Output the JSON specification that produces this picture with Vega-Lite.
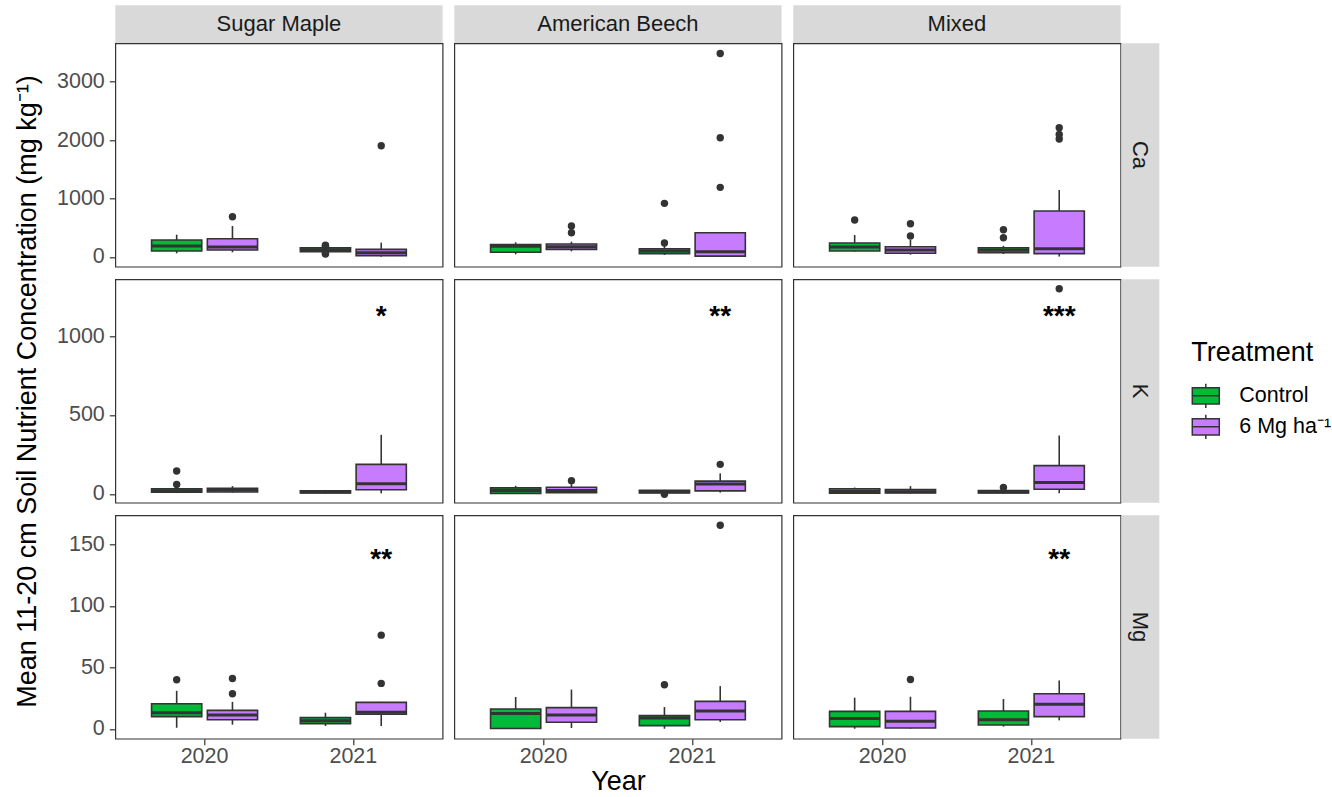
{
"$schema": "https://vega.github.io/schema/vega-lite/v6.json",
"padding": {"left": 13.3, "top": 5.3, "right": 5, "bottom": 2},
"datasets": {
"boxes": [
{"species":"Sugar Maple","element":"Ca","year":"2020","treatment":"Control","lo":63,"q1":103,"med":190,"q3":291,"hi":382},
{"species":"Sugar Maple","element":"Ca","year":"2020","treatment":"6 Mg ha⁻¹","lo":80,"q1":120,"med":170,"q3":313,"hi":530},
{"species":"Sugar Maple","element":"Ca","year":"2021","treatment":"Control","lo":80,"q1":91,"med":125,"q3":159,"hi":175},
{"species":"Sugar Maple","element":"Ca","year":"2021","treatment":"6 Mg ha⁻¹","lo":5,"q1":23,"med":74,"q3":131,"hi":245},
{"species":"American Beech","element":"Ca","year":"2020","treatment":"Control","lo":46,"q1":80,"med":183,"q3":211,"hi":251},
{"species":"American Beech","element":"Ca","year":"2020","treatment":"6 Mg ha⁻¹","lo":97,"q1":131,"med":177,"q3":222,"hi":262},
{"species":"American Beech","element":"Ca","year":"2021","treatment":"Control","lo":34,"q1":57,"med":103,"q3":142,"hi":200},
{"species":"American Beech","element":"Ca","year":"2021","treatment":"6 Mg ha⁻¹","lo":8,"q1":15,"med":91,"q3":416,"hi":416},
{"species":"Mixed","element":"Ca","year":"2020","treatment":"Control","lo":91,"q1":103,"med":170,"q3":240,"hi":376},
{"species":"Mixed","element":"Ca","year":"2020","treatment":"6 Mg ha⁻¹","lo":40,"q1":63,"med":120,"q3":176,"hi":291},
{"species":"Mixed","element":"Ca","year":"2021","treatment":"Control","lo":51,"q1":74,"med":120,"q3":159,"hi":190},
{"species":"Mixed","element":"Ca","year":"2021","treatment":"6 Mg ha⁻¹","lo":8,"q1":57,"med":140,"q3":787,"hi":1146},
{"species":"Sugar Maple","element":"K","year":"2020","treatment":"Control","lo":5,"q1":10,"med":20,"q3":32,"hi":40},
{"species":"Sugar Maple","element":"K","year":"2020","treatment":"6 Mg ha⁻¹","lo":8,"q1":12,"med":24,"q3":36,"hi":49},
{"species":"Sugar Maple","element":"K","year":"2021","treatment":"Control","lo":3,"q1":5,"med":12,"q3":20,"hi":25},
{"species":"Sugar Maple","element":"K","year":"2021","treatment":"6 Mg ha⁻¹","lo":3,"q1":26,"med":64,"q3":187,"hi":374},
{"species":"American Beech","element":"K","year":"2020","treatment":"Control","lo":2,"q1":3,"med":22,"q3":38,"hi":51},
{"species":"American Beech","element":"K","year":"2020","treatment":"6 Mg ha⁻¹","lo":5,"q1":8,"med":22,"q3":42,"hi":61},
{"species":"American Beech","element":"K","year":"2021","treatment":"Control","lo":3,"q1":5,"med":13,"q3":22,"hi":25},
{"species":"American Beech","element":"K","year":"2021","treatment":"6 Mg ha⁻¹","lo":8,"q1":19,"med":62,"q3":81,"hi":130},
{"species":"Mixed","element":"K","year":"2020","treatment":"Control","lo":2,"q1":4,"med":15,"q3":32,"hi":40},
{"species":"Mixed","element":"K","year":"2020","treatment":"6 Mg ha⁻¹","lo":3,"q1":5,"med":14,"q3":27,"hi":49},
{"species":"Mixed","element":"K","year":"2021","treatment":"Control","lo":3,"q1":5,"med":12,"q3":21,"hi":25},
{"species":"Mixed","element":"K","year":"2021","treatment":"6 Mg ha⁻¹","lo":4,"q1":29,"med":72,"q3":179,"hi":370},
{"species":"Sugar Maple","element":"Mg","year":"2020","treatment":"Control","lo":1,"q1":10,"med":13.2,"q3":20.5,"hi":31},
{"species":"Sugar Maple","element":"Mg","year":"2020","treatment":"6 Mg ha⁻¹","lo":3.5,"q1":7.5,"med":11.3,"q3":15.1,"hi":22},
{"species":"Sugar Maple","element":"Mg","year":"2021","treatment":"Control","lo":2.4,"q1":4.3,"med":6.7,"q3":9.2,"hi":13.2},
{"species":"Sugar Maple","element":"Mg","year":"2021","treatment":"6 Mg ha⁻¹","lo":2.4,"q1":11.9,"med":13.5,"q3":21.6,"hi":22},
{"species":"American Beech","element":"Mg","year":"2020","treatment":"Control","lo":0.4,"q1":0.4,"med":12.6,"q3":16.2,"hi":26},
{"species":"American Beech","element":"Mg","year":"2020","treatment":"6 Mg ha⁻¹","lo":0.8,"q1":5.4,"med":11.3,"q3":17.3,"hi":32},
{"species":"American Beech","element":"Mg","year":"2021","treatment":"Control","lo":0.2,"q1":2.7,"med":8.9,"q3":10.8,"hi":17.8},
{"species":"American Beech","element":"Mg","year":"2021","treatment":"6 Mg ha⁻¹","lo":5.7,"q1":7.5,"med":14.6,"q3":22.4,"hi":34.8},
{"species":"Mixed","element":"Mg","year":"2020","treatment":"Control","lo":0.2,"q1":1.9,"med":8.4,"q3":14.3,"hi":25.4},
{"species":"Mixed","element":"Mg","year":"2020","treatment":"6 Mg ha⁻¹","lo":0.2,"q1":0.8,"med":6.2,"q3":14.3,"hi":26.2},
{"species":"Mixed","element":"Mg","year":"2021","treatment":"Control","lo":1.9,"q1":3.2,"med":7.5,"q3":14.6,"hi":24.3},
{"species":"Mixed","element":"Mg","year":"2021","treatment":"6 Mg ha⁻¹","lo":7,"q1":10,"med":20,"q3":28.6,"hi":39.4}
],
"outliers": [
{"species":"Sugar Maple","element":"Ca","year":"2020","treatment":"6 Mg ha⁻¹","value":690},
{"species":"Sugar Maple","element":"Ca","year":"2021","treatment":"Control","value":185},
{"species":"Sugar Maple","element":"Ca","year":"2021","treatment":"Control","value":200},
{"species":"Sugar Maple","element":"Ca","year":"2021","treatment":"Control","value":65},
{"species":"Sugar Maple","element":"Ca","year":"2021","treatment":"Control","value":50},
{"species":"Sugar Maple","element":"Ca","year":"2021","treatment":"6 Mg ha⁻¹","value":1905},
{"species":"American Beech","element":"Ca","year":"2020","treatment":"6 Mg ha⁻¹","value":416},
{"species":"American Beech","element":"Ca","year":"2020","treatment":"6 Mg ha⁻¹","value":530},
{"species":"American Beech","element":"Ca","year":"2021","treatment":"Control","value":240},
{"species":"American Beech","element":"Ca","year":"2021","treatment":"Control","value":918},
{"species":"American Beech","element":"Ca","year":"2021","treatment":"6 Mg ha⁻¹","value":1192},
{"species":"American Beech","element":"Ca","year":"2021","treatment":"6 Mg ha⁻¹","value":2041},
{"species":"American Beech","element":"Ca","year":"2021","treatment":"6 Mg ha⁻¹","value":3483},
{"species":"Mixed","element":"Ca","year":"2020","treatment":"Control","value":633},
{"species":"Mixed","element":"Ca","year":"2020","treatment":"6 Mg ha⁻¹","value":359},
{"species":"Mixed","element":"Ca","year":"2020","treatment":"6 Mg ha⁻¹","value":570},
{"species":"Mixed","element":"Ca","year":"2021","treatment":"Control","value":330},
{"species":"Mixed","element":"Ca","year":"2021","treatment":"Control","value":467},
{"species":"Mixed","element":"Ca","year":"2021","treatment":"6 Mg ha⁻¹","value":2019},
{"species":"Mixed","element":"Ca","year":"2021","treatment":"6 Mg ha⁻¹","value":2098},
{"species":"Mixed","element":"Ca","year":"2021","treatment":"6 Mg ha⁻¹","value":2212},
{"species":"Sugar Maple","element":"K","year":"2020","treatment":"Control","value":59},
{"species":"Sugar Maple","element":"K","year":"2020","treatment":"Control","value":145},
{"species":"American Beech","element":"K","year":"2020","treatment":"6 Mg ha⁻¹","value":83},
{"species":"American Beech","element":"K","year":"2021","treatment":"Control","value":-3},
{"species":"American Beech","element":"K","year":"2021","treatment":"6 Mg ha⁻¹","value":187},
{"species":"Mixed","element":"K","year":"2021","treatment":"Control","value":40},
{"species":"Mixed","element":"K","year":"2021","treatment":"6 Mg ha⁻¹","value":1300},
{"species":"Sugar Maple","element":"Mg","year":"2020","treatment":"Control","value":40},
{"species":"Sugar Maple","element":"Mg","year":"2020","treatment":"6 Mg ha⁻¹","value":28.6},
{"species":"Sugar Maple","element":"Mg","year":"2020","treatment":"6 Mg ha⁻¹","value":41},
{"species":"Sugar Maple","element":"Mg","year":"2021","treatment":"6 Mg ha⁻¹","value":37},
{"species":"Sugar Maple","element":"Mg","year":"2021","treatment":"6 Mg ha⁻¹","value":76.2},
{"species":"American Beech","element":"Mg","year":"2021","treatment":"Control","value":35.9},
{"species":"American Beech","element":"Mg","year":"2021","treatment":"6 Mg ha⁻¹","value":165.4},
{"species":"Mixed","element":"Mg","year":"2020","treatment":"6 Mg ha⁻¹","value":40.2}
],
"sig": [
{"species":"Sugar Maple","element":"K","year":"2021","treatment":"6 Mg ha⁻¹","label":"*","value":1119},
{"species":"American Beech","element":"K","year":"2021","treatment":"6 Mg ha⁻¹","label":"**","value":1119},
{"species":"Mixed","element":"K","year":"2021","treatment":"6 Mg ha⁻¹","label":"***","value":1119},
{"species":"Sugar Maple","element":"Mg","year":"2021","treatment":"6 Mg ha⁻¹","label":"**","value":137.4},
{"species":"Mixed","element":"Mg","year":"2021","treatment":"6 Mg ha⁻¹","label":"**","value":137.4}
]
},
"columns": 6,
"spacing": 0,
"align": "each",
"bounds": "flush",
"concat": [
{"width":327.3,"height":38,"view":{"fill":"#d9d9d9","stroke":null},"data":{"values":[{"t":"Sugar Maple"}]},"mark":{"type":"text","fontSize":22,"color":"#1a1a1a"},"encoding":{"text":{"field":"t"}}},
{"width":11,"height":1,"data":{"values":[]},"mark":"point"},
{"width":327.3,"height":38,"view":{"fill":"#d9d9d9","stroke":null},"data":{"values":[{"t":"American Beech"}]},"mark":{"type":"text","fontSize":22,"color":"#1a1a1a"},"encoding":{"text":{"field":"t"}}},
{"width":11,"height":1,"data":{"values":[]},"mark":"point"},
{"width":327.3,"height":38,"view":{"fill":"#d9d9d9","stroke":null},"data":{"values":[{"t":"Mixed"}]},"mark":{"type":"text","fontSize":22,"color":"#1a1a1a"},"encoding":{"text":{"field":"t"}}},
{"width":1,"height":1,"data":{"values":[]},"mark":"point"},

{"width":327.3,"height":223.4,"view":{"stroke":"#333333","strokeWidth":1.2},
 "encoding":{"x":{"field":"year","type":"nominal","scale":{"paddingInner":0.25,"paddingOuter":0.225},"axis":null},
  "xOffset":{"field":"treatment","type":"nominal","scale":{"domain":["Control","6 Mg ha⁻¹"],"paddingInner":0.1,"paddingOuter":0.05}}},
 "layer":[
  {"data":{"name":"boxes"},"transform":[{"filter":"datum.species==='Sugar Maple' && datum.element==='Ca'"}],"mark":{"type":"rule","color":"#333333","strokeWidth":1.6},
   "encoding":{"y":{"field":"lo","type":"quantitative","scale":{"domain":[-166,3657],"nice":false,"zero":false},"axis":{"values":[0,1000,2000,3000],"format":"d","title":null}},"y2":{"field":"hi"}}},
  {"data":{"name":"boxes"},"transform":[{"filter":"datum.species==='Sugar Maple' && datum.element==='Ca'"}],"mark":{"type":"bar","stroke":"#333333","strokeWidth":1.6},
   "encoding":{"y":{"field":"q1","type":"quantitative","axis":{"values":[0,1000,2000,3000],"format":"d","title":null}},"y2":{"field":"q3"},"fill":{"field":"treatment","type":"nominal","scale":{"domain":["Control","6 Mg ha⁻¹"],"range":["#00BA38","#C77CFF"]},
    "legend":{"title":"Treatment","orient":"none","legendX":1076,"legendY":335,"symbolType":"M-1,-0.6H1V0.6H-1Z M-1,0H1 M0,-0.6V-0.9 M0,0.6V0.9","symbolSize":729,"symbolStrokeColor":"#333333","symbolStrokeWidth":1.5,"titleFontSize":27,"titleFontWeight":"normal","titleColor":"black","labelFontSize":21.5,"labelColor":"black","labelOffset":19,"rowPadding":0,"titlePadding":14}}}},
  {"data":{"name":"boxes"},"transform":[{"filter":"datum.species==='Sugar Maple' && datum.element==='Ca'"}],"mark":{"type":"bar","stroke":"#333333","strokeWidth":3,"fill":"#333333"},
   "encoding":{"y":{"field":"med","type":"quantitative","axis":{"values":[0,1000,2000,3000],"format":"d","title":null}},"y2":{"field":"med"}}},
  {"data":{"name":"outliers"},"transform":[{"filter":"datum.species==='Sugar Maple' && datum.element==='Ca'"}],"mark":{"type":"point","filled":true,"color":"#333333","size":55,"opacity":1},
   "encoding":{"y":{"field":"value","type":"quantitative","axis":{"values":[0,1000,2000,3000],"format":"d","title":null}}}},
  {"data":{"name":"sig"},"transform":[{"filter":"datum.species==='Sugar Maple' && datum.element==='Ca'"}],"mark":{"type":"text","fontSize":28,"fontWeight":"bold","baseline":"middle","color":"black"},
   "encoding":{"y":{"field":"value","type":"quantitative","axis":{"values":[0,1000,2000,3000],"format":"d","title":null}},"text":{"field":"label"}}}
 ]},
{"width":11,"height":1,"data":{"values":[]},"mark":"point"},
{"width":327.3,"height":223.4,"view":{"stroke":"#333333","strokeWidth":1.2},
 "encoding":{"x":{"field":"year","type":"nominal","scale":{"paddingInner":0.25,"paddingOuter":0.225},"axis":null},
  "xOffset":{"field":"treatment","type":"nominal","scale":{"domain":["Control","6 Mg ha⁻¹"],"paddingInner":0.1,"paddingOuter":0.05}}},
 "layer":[
  {"data":{"name":"boxes"},"transform":[{"filter":"datum.species==='American Beech' && datum.element==='Ca'"}],"mark":{"type":"rule","color":"#333333","strokeWidth":1.6},
   "encoding":{"y":{"field":"lo","type":"quantitative","scale":{"domain":[-166,3657],"nice":false,"zero":false},"axis":null},"y2":{"field":"hi"}}},
  {"data":{"name":"boxes"},"transform":[{"filter":"datum.species==='American Beech' && datum.element==='Ca'"}],"mark":{"type":"bar","stroke":"#333333","strokeWidth":1.6},
   "encoding":{"y":{"field":"q1","type":"quantitative","axis":null},"y2":{"field":"q3"},"fill":{"field":"treatment","type":"nominal","scale":{"domain":["Control","6 Mg ha⁻¹"],"range":["#00BA38","#C77CFF"]}}}},
  {"data":{"name":"boxes"},"transform":[{"filter":"datum.species==='American Beech' && datum.element==='Ca'"}],"mark":{"type":"bar","stroke":"#333333","strokeWidth":3,"fill":"#333333"},
   "encoding":{"y":{"field":"med","type":"quantitative","axis":null},"y2":{"field":"med"}}},
  {"data":{"name":"outliers"},"transform":[{"filter":"datum.species==='American Beech' && datum.element==='Ca'"}],"mark":{"type":"point","filled":true,"color":"#333333","size":55,"opacity":1},
   "encoding":{"y":{"field":"value","type":"quantitative","axis":null}}},
  {"data":{"name":"sig"},"transform":[{"filter":"datum.species==='American Beech' && datum.element==='Ca'"}],"mark":{"type":"text","fontSize":28,"fontWeight":"bold","baseline":"middle","color":"black"},
   "encoding":{"y":{"field":"value","type":"quantitative","axis":null},"text":{"field":"label"}}}
 ]},
{"width":11,"height":1,"data":{"values":[]},"mark":"point"},
{"width":327.3,"height":223.4,"view":{"stroke":"#333333","strokeWidth":1.2},
 "encoding":{"x":{"field":"year","type":"nominal","scale":{"paddingInner":0.25,"paddingOuter":0.225},"axis":null},
  "xOffset":{"field":"treatment","type":"nominal","scale":{"domain":["Control","6 Mg ha⁻¹"],"paddingInner":0.1,"paddingOuter":0.05}}},
 "layer":[
  {"data":{"name":"boxes"},"transform":[{"filter":"datum.species==='Mixed' && datum.element==='Ca'"}],"mark":{"type":"rule","color":"#333333","strokeWidth":1.6},
   "encoding":{"y":{"field":"lo","type":"quantitative","scale":{"domain":[-166,3657],"nice":false,"zero":false},"axis":null},"y2":{"field":"hi"}}},
  {"data":{"name":"boxes"},"transform":[{"filter":"datum.species==='Mixed' && datum.element==='Ca'"}],"mark":{"type":"bar","stroke":"#333333","strokeWidth":1.6},
   "encoding":{"y":{"field":"q1","type":"quantitative","axis":null},"y2":{"field":"q3"},"fill":{"field":"treatment","type":"nominal","scale":{"domain":["Control","6 Mg ha⁻¹"],"range":["#00BA38","#C77CFF"]}}}},
  {"data":{"name":"boxes"},"transform":[{"filter":"datum.species==='Mixed' && datum.element==='Ca'"}],"mark":{"type":"bar","stroke":"#333333","strokeWidth":3,"fill":"#333333"},
   "encoding":{"y":{"field":"med","type":"quantitative","axis":null},"y2":{"field":"med"}}},
  {"data":{"name":"outliers"},"transform":[{"filter":"datum.species==='Mixed' && datum.element==='Ca'"}],"mark":{"type":"point","filled":true,"color":"#333333","size":55,"opacity":1},
   "encoding":{"y":{"field":"value","type":"quantitative","axis":null}}},
  {"data":{"name":"sig"},"transform":[{"filter":"datum.species==='Mixed' && datum.element==='Ca'"}],"mark":{"type":"text","fontSize":28,"fontWeight":"bold","baseline":"middle","color":"black"},
   "encoding":{"y":{"field":"value","type":"quantitative","axis":null},"text":{"field":"label"}}}
 ]},
{"width":38,"height":223.4,"view":{"fill":"#d9d9d9","stroke":null},"data":{"values":[{"t":"Ca"}]},"mark":{"type":"text","fontSize":22,"color":"#1a1a1a","angle":90},"encoding":{"text":{"field":"t"}}},

{"width":1,"height":11.6,"data":{"values":[]},"mark":"point"},
{"width":1,"height":11.6,"data":{"values":[]},"mark":"point"},
{"width":1,"height":11.6,"data":{"values":[]},"mark":"point"},
{"width":1,"height":11.6,"data":{"values":[]},"mark":"point"},
{"width":1,"height":11.6,"data":{"values":[]},"mark":"point"},
{"width":1,"height":11.6,"data":{"values":[]},"mark":"point"},

{"width":327.3,"height":223.4,"view":{"stroke":"#333333","strokeWidth":1.2},
 "encoding":{"x":{"field":"year","type":"nominal","scale":{"paddingInner":0.25,"paddingOuter":0.225},"axis":null},
  "xOffset":{"field":"treatment","type":"nominal","scale":{"domain":["Control","6 Mg ha⁻¹"],"paddingInner":0.1,"paddingOuter":0.05}}},
 "layer":[
  {"data":{"name":"boxes"},"transform":[{"filter":"datum.species==='Sugar Maple' && datum.element==='K'"}],"mark":{"type":"rule","color":"#333333","strokeWidth":1.6},
   "encoding":{"y":{"field":"lo","type":"quantitative","scale":{"domain":[-56,1360],"nice":false,"zero":false},"axis":{"values":[0,500,1000],"format":"d","title":"Mean 11-20 cm Soil Nutrient Concentration (mg kg⁻¹)","titlePadding":14.5}},"y2":{"field":"hi"}}},
  {"data":{"name":"boxes"},"transform":[{"filter":"datum.species==='Sugar Maple' && datum.element==='K'"}],"mark":{"type":"bar","stroke":"#333333","strokeWidth":1.6},
   "encoding":{"y":{"field":"q1","type":"quantitative","axis":{"values":[0,500,1000],"format":"d","title":"Mean 11-20 cm Soil Nutrient Concentration (mg kg⁻¹)","titlePadding":14.5}},"y2":{"field":"q3"},"fill":{"field":"treatment","type":"nominal","scale":{"domain":["Control","6 Mg ha⁻¹"],"range":["#00BA38","#C77CFF"]}}}},
  {"data":{"name":"boxes"},"transform":[{"filter":"datum.species==='Sugar Maple' && datum.element==='K'"}],"mark":{"type":"bar","stroke":"#333333","strokeWidth":3,"fill":"#333333"},
   "encoding":{"y":{"field":"med","type":"quantitative","axis":{"values":[0,500,1000],"format":"d","title":"Mean 11-20 cm Soil Nutrient Concentration (mg kg⁻¹)","titlePadding":14.5}},"y2":{"field":"med"}}},
  {"data":{"name":"outliers"},"transform":[{"filter":"datum.species==='Sugar Maple' && datum.element==='K'"}],"mark":{"type":"point","filled":true,"color":"#333333","size":55,"opacity":1},
   "encoding":{"y":{"field":"value","type":"quantitative","axis":{"values":[0,500,1000],"format":"d","title":"Mean 11-20 cm Soil Nutrient Concentration (mg kg⁻¹)","titlePadding":14.5}}}},
  {"data":{"name":"sig"},"transform":[{"filter":"datum.species==='Sugar Maple' && datum.element==='K'"}],"mark":{"type":"text","fontSize":28,"fontWeight":"bold","baseline":"middle","color":"black"},
   "encoding":{"y":{"field":"value","type":"quantitative","axis":{"values":[0,500,1000],"format":"d","title":"Mean 11-20 cm Soil Nutrient Concentration (mg kg⁻¹)","titlePadding":14.5}},"text":{"field":"label"}}}
 ]},
{"width":11,"height":1,"data":{"values":[]},"mark":"point"},
{"width":327.3,"height":223.4,"view":{"stroke":"#333333","strokeWidth":1.2},
 "encoding":{"x":{"field":"year","type":"nominal","scale":{"paddingInner":0.25,"paddingOuter":0.225},"axis":null},
  "xOffset":{"field":"treatment","type":"nominal","scale":{"domain":["Control","6 Mg ha⁻¹"],"paddingInner":0.1,"paddingOuter":0.05}}},
 "layer":[
  {"data":{"name":"boxes"},"transform":[{"filter":"datum.species==='American Beech' && datum.element==='K'"}],"mark":{"type":"rule","color":"#333333","strokeWidth":1.6},
   "encoding":{"y":{"field":"lo","type":"quantitative","scale":{"domain":[-56,1360],"nice":false,"zero":false},"axis":null},"y2":{"field":"hi"}}},
  {"data":{"name":"boxes"},"transform":[{"filter":"datum.species==='American Beech' && datum.element==='K'"}],"mark":{"type":"bar","stroke":"#333333","strokeWidth":1.6},
   "encoding":{"y":{"field":"q1","type":"quantitative","axis":null},"y2":{"field":"q3"},"fill":{"field":"treatment","type":"nominal","scale":{"domain":["Control","6 Mg ha⁻¹"],"range":["#00BA38","#C77CFF"]}}}},
  {"data":{"name":"boxes"},"transform":[{"filter":"datum.species==='American Beech' && datum.element==='K'"}],"mark":{"type":"bar","stroke":"#333333","strokeWidth":3,"fill":"#333333"},
   "encoding":{"y":{"field":"med","type":"quantitative","axis":null},"y2":{"field":"med"}}},
  {"data":{"name":"outliers"},"transform":[{"filter":"datum.species==='American Beech' && datum.element==='K'"}],"mark":{"type":"point","filled":true,"color":"#333333","size":55,"opacity":1},
   "encoding":{"y":{"field":"value","type":"quantitative","axis":null}}},
  {"data":{"name":"sig"},"transform":[{"filter":"datum.species==='American Beech' && datum.element==='K'"}],"mark":{"type":"text","fontSize":28,"fontWeight":"bold","baseline":"middle","color":"black"},
   "encoding":{"y":{"field":"value","type":"quantitative","axis":null},"text":{"field":"label"}}}
 ]},
{"width":11,"height":1,"data":{"values":[]},"mark":"point"},
{"width":327.3,"height":223.4,"view":{"stroke":"#333333","strokeWidth":1.2},
 "encoding":{"x":{"field":"year","type":"nominal","scale":{"paddingInner":0.25,"paddingOuter":0.225},"axis":null},
  "xOffset":{"field":"treatment","type":"nominal","scale":{"domain":["Control","6 Mg ha⁻¹"],"paddingInner":0.1,"paddingOuter":0.05}}},
 "layer":[
  {"data":{"name":"boxes"},"transform":[{"filter":"datum.species==='Mixed' && datum.element==='K'"}],"mark":{"type":"rule","color":"#333333","strokeWidth":1.6},
   "encoding":{"y":{"field":"lo","type":"quantitative","scale":{"domain":[-56,1360],"nice":false,"zero":false},"axis":null},"y2":{"field":"hi"}}},
  {"data":{"name":"boxes"},"transform":[{"filter":"datum.species==='Mixed' && datum.element==='K'"}],"mark":{"type":"bar","stroke":"#333333","strokeWidth":1.6},
   "encoding":{"y":{"field":"q1","type":"quantitative","axis":null},"y2":{"field":"q3"},"fill":{"field":"treatment","type":"nominal","scale":{"domain":["Control","6 Mg ha⁻¹"],"range":["#00BA38","#C77CFF"]}}}},
  {"data":{"name":"boxes"},"transform":[{"filter":"datum.species==='Mixed' && datum.element==='K'"}],"mark":{"type":"bar","stroke":"#333333","strokeWidth":3,"fill":"#333333"},
   "encoding":{"y":{"field":"med","type":"quantitative","axis":null},"y2":{"field":"med"}}},
  {"data":{"name":"outliers"},"transform":[{"filter":"datum.species==='Mixed' && datum.element==='K'"}],"mark":{"type":"point","filled":true,"color":"#333333","size":55,"opacity":1},
   "encoding":{"y":{"field":"value","type":"quantitative","axis":null}}},
  {"data":{"name":"sig"},"transform":[{"filter":"datum.species==='Mixed' && datum.element==='K'"}],"mark":{"type":"text","fontSize":28,"fontWeight":"bold","baseline":"middle","color":"black"},
   "encoding":{"y":{"field":"value","type":"quantitative","axis":null},"text":{"field":"label"}}}
 ]},
{"width":38,"height":223.4,"view":{"fill":"#d9d9d9","stroke":null},"data":{"values":[{"t":"K"}]},"mark":{"type":"text","fontSize":22,"color":"#1a1a1a","angle":90},"encoding":{"text":{"field":"t"}}},

{"width":1,"height":11.6,"data":{"values":[]},"mark":"point"},
{"width":1,"height":11.6,"data":{"values":[]},"mark":"point"},
{"width":1,"height":11.6,"data":{"values":[]},"mark":"point"},
{"width":1,"height":11.6,"data":{"values":[]},"mark":"point"},
{"width":1,"height":11.6,"data":{"values":[]},"mark":"point"},
{"width":1,"height":11.6,"data":{"values":[]},"mark":"point"},

{"width":327.3,"height":223.4,"view":{"stroke":"#333333","strokeWidth":1.2},
 "encoding":{"x":{"field":"year","type":"nominal","scale":{"paddingInner":0.25,"paddingOuter":0.225},"axis":{"title":null}},
  "xOffset":{"field":"treatment","type":"nominal","scale":{"domain":["Control","6 Mg ha⁻¹"],"paddingInner":0.1,"paddingOuter":0.05}}},
 "layer":[
  {"data":{"name":"boxes"},"transform":[{"filter":"datum.species==='Sugar Maple' && datum.element==='Mg'"}],"mark":{"type":"rule","color":"#333333","strokeWidth":1.6},
   "encoding":{"y":{"field":"lo","type":"quantitative","scale":{"domain":[-7.9,173.5],"nice":false,"zero":false},"axis":{"values":[0,50,100,150],"format":"d","title":null}},"y2":{"field":"hi"}}},
  {"data":{"name":"boxes"},"transform":[{"filter":"datum.species==='Sugar Maple' && datum.element==='Mg'"}],"mark":{"type":"bar","stroke":"#333333","strokeWidth":1.6},
   "encoding":{"y":{"field":"q1","type":"quantitative","axis":{"values":[0,50,100,150],"format":"d","title":null}},"y2":{"field":"q3"},"fill":{"field":"treatment","type":"nominal","scale":{"domain":["Control","6 Mg ha⁻¹"],"range":["#00BA38","#C77CFF"]}}}},
  {"data":{"name":"boxes"},"transform":[{"filter":"datum.species==='Sugar Maple' && datum.element==='Mg'"}],"mark":{"type":"bar","stroke":"#333333","strokeWidth":3,"fill":"#333333"},
   "encoding":{"y":{"field":"med","type":"quantitative","axis":{"values":[0,50,100,150],"format":"d","title":null}},"y2":{"field":"med"}}},
  {"data":{"name":"outliers"},"transform":[{"filter":"datum.species==='Sugar Maple' && datum.element==='Mg'"}],"mark":{"type":"point","filled":true,"color":"#333333","size":55,"opacity":1},
   "encoding":{"y":{"field":"value","type":"quantitative","axis":{"values":[0,50,100,150],"format":"d","title":null}}}},
  {"data":{"name":"sig"},"transform":[{"filter":"datum.species==='Sugar Maple' && datum.element==='Mg'"}],"mark":{"type":"text","fontSize":28,"fontWeight":"bold","baseline":"middle","color":"black"},
   "encoding":{"y":{"field":"value","type":"quantitative","axis":{"values":[0,50,100,150],"format":"d","title":null}},"text":{"field":"label"}}}
 ]},
{"width":11,"height":1,"data":{"values":[]},"mark":"point"},
{"width":327.3,"height":223.4,"view":{"stroke":"#333333","strokeWidth":1.2},
 "encoding":{"x":{"field":"year","type":"nominal","scale":{"paddingInner":0.25,"paddingOuter":0.225},"axis":{"title":"Year","titlePadding":2}},
  "xOffset":{"field":"treatment","type":"nominal","scale":{"domain":["Control","6 Mg ha⁻¹"],"paddingInner":0.1,"paddingOuter":0.05}}},
 "layer":[
  {"data":{"name":"boxes"},"transform":[{"filter":"datum.species==='American Beech' && datum.element==='Mg'"}],"mark":{"type":"rule","color":"#333333","strokeWidth":1.6},
   "encoding":{"y":{"field":"lo","type":"quantitative","scale":{"domain":[-7.9,173.5],"nice":false,"zero":false},"axis":null},"y2":{"field":"hi"}}},
  {"data":{"name":"boxes"},"transform":[{"filter":"datum.species==='American Beech' && datum.element==='Mg'"}],"mark":{"type":"bar","stroke":"#333333","strokeWidth":1.6},
   "encoding":{"y":{"field":"q1","type":"quantitative","axis":null},"y2":{"field":"q3"},"fill":{"field":"treatment","type":"nominal","scale":{"domain":["Control","6 Mg ha⁻¹"],"range":["#00BA38","#C77CFF"]}}}},
  {"data":{"name":"boxes"},"transform":[{"filter":"datum.species==='American Beech' && datum.element==='Mg'"}],"mark":{"type":"bar","stroke":"#333333","strokeWidth":3,"fill":"#333333"},
   "encoding":{"y":{"field":"med","type":"quantitative","axis":null},"y2":{"field":"med"}}},
  {"data":{"name":"outliers"},"transform":[{"filter":"datum.species==='American Beech' && datum.element==='Mg'"}],"mark":{"type":"point","filled":true,"color":"#333333","size":55,"opacity":1},
   "encoding":{"y":{"field":"value","type":"quantitative","axis":null}}},
  {"data":{"name":"sig"},"transform":[{"filter":"datum.species==='American Beech' && datum.element==='Mg'"}],"mark":{"type":"text","fontSize":28,"fontWeight":"bold","baseline":"middle","color":"black"},
   "encoding":{"y":{"field":"value","type":"quantitative","axis":null},"text":{"field":"label"}}}
 ]},
{"width":11,"height":1,"data":{"values":[]},"mark":"point"},
{"width":327.3,"height":223.4,"view":{"stroke":"#333333","strokeWidth":1.2},
 "encoding":{"x":{"field":"year","type":"nominal","scale":{"paddingInner":0.25,"paddingOuter":0.225},"axis":{"title":null}},
  "xOffset":{"field":"treatment","type":"nominal","scale":{"domain":["Control","6 Mg ha⁻¹"],"paddingInner":0.1,"paddingOuter":0.05}}},
 "layer":[
  {"data":{"name":"boxes"},"transform":[{"filter":"datum.species==='Mixed' && datum.element==='Mg'"}],"mark":{"type":"rule","color":"#333333","strokeWidth":1.6},
   "encoding":{"y":{"field":"lo","type":"quantitative","scale":{"domain":[-7.9,173.5],"nice":false,"zero":false},"axis":null},"y2":{"field":"hi"}}},
  {"data":{"name":"boxes"},"transform":[{"filter":"datum.species==='Mixed' && datum.element==='Mg'"}],"mark":{"type":"bar","stroke":"#333333","strokeWidth":1.6},
   "encoding":{"y":{"field":"q1","type":"quantitative","axis":null},"y2":{"field":"q3"},"fill":{"field":"treatment","type":"nominal","scale":{"domain":["Control","6 Mg ha⁻¹"],"range":["#00BA38","#C77CFF"]}}}},
  {"data":{"name":"boxes"},"transform":[{"filter":"datum.species==='Mixed' && datum.element==='Mg'"}],"mark":{"type":"bar","stroke":"#333333","strokeWidth":3,"fill":"#333333"},
   "encoding":{"y":{"field":"med","type":"quantitative","axis":null},"y2":{"field":"med"}}},
  {"data":{"name":"outliers"},"transform":[{"filter":"datum.species==='Mixed' && datum.element==='Mg'"}],"mark":{"type":"point","filled":true,"color":"#333333","size":55,"opacity":1},
   "encoding":{"y":{"field":"value","type":"quantitative","axis":null}}},
  {"data":{"name":"sig"},"transform":[{"filter":"datum.species==='Mixed' && datum.element==='Mg'"}],"mark":{"type":"text","fontSize":28,"fontWeight":"bold","baseline":"middle","color":"black"},
   "encoding":{"y":{"field":"value","type":"quantitative","axis":null},"text":{"field":"label"}}}
 ]},
{"width":38,"height":223.4,"view":{"fill":"#d9d9d9","stroke":null},"data":{"values":[{"t":"Mg"}]},"mark":{"type":"text","fontSize":22,"color":"#1a1a1a","angle":90},"encoding":{"text":{"field":"t"}}}
],
"resolve": {"scale": {"x": "independent", "y": "independent", "xOffset": "independent"}},
"config": {
 "font": "Liberation Sans",
 "view": {"stroke": null},
 "axis": {"grid": false, "domain": false, "tickColor": "#333333", "tickSize": 6, "tickWidth": 1.2, "labelFontSize": 21.5, "labelColor": "#4d4d4d", "labelPadding": 5, "titleFontSize": 27, "titleFontWeight": "normal", "titleColor": "black", "labelFont": "Liberation Sans", "titleFont": "Liberation Sans"},
 "axisX": {"labelAngle": 0, "labelPadding": 0.5},
 "legend": {"labelFont": "Liberation Sans", "titleFont": "Liberation Sans"}
}
}
